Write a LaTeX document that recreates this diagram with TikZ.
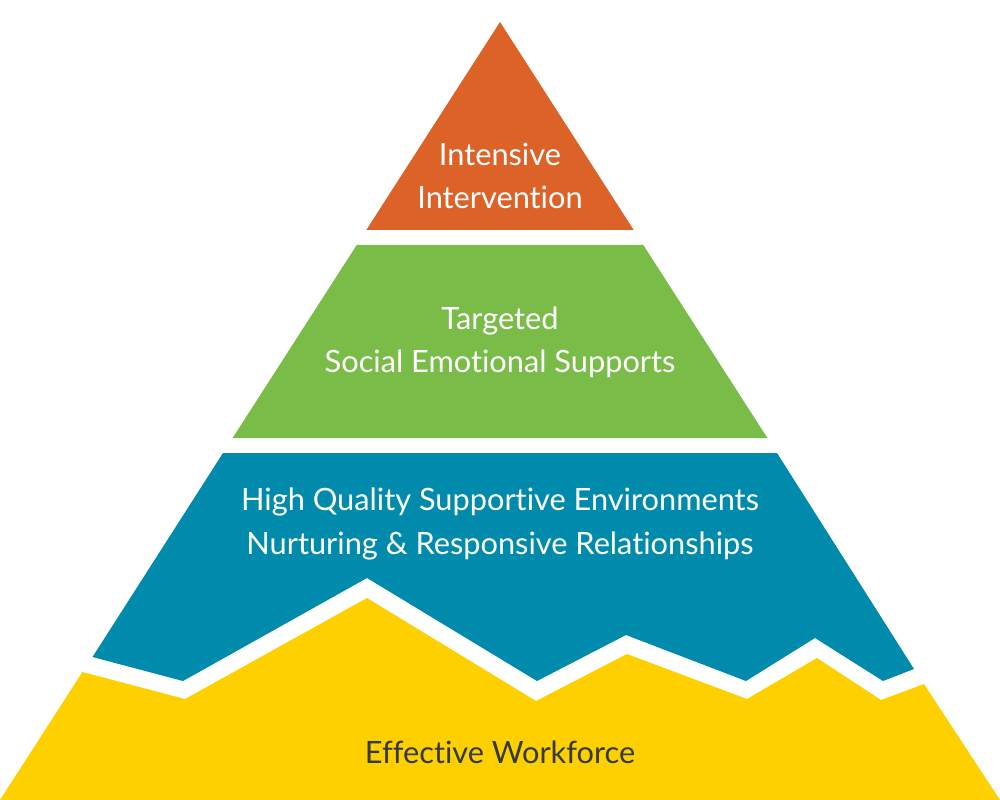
\documentclass[tikz,border=0pt]{standalone}
\usepackage{fontspec}
\setmainfont{Lato}[RawFeature={-liga;-dlig;-clig}]
\definecolor{tierorange}{HTML}{DC6228}
\definecolor{tiergreen}{HTML}{7ABC48}
\definecolor{tierblue}{HTML}{008AAB}
\definecolor{tieryellow}{HTML}{FFD000}
\definecolor{darktext}{HTML}{333A40}
\tikzset{
  tiertext/.style={align=center, text=white, font=\fontsize{17.5}{24.5}\selectfont, inner sep=0pt},
  basetext/.style={align=center, text=darktext, font=\fontsize{17.5}{24.5}\selectfont, inner sep=0pt}
}
\begin{document}
\begin{tikzpicture}[x=0.02cm, y=-0.02cm]
\useasboundingbox (0,0) rectangle (1000,800);
% top tier
\fill[tierorange] (500,22) -- (633.7,230) -- (366.3,230) -- cycle;
% second tier
\fill[tiergreen] (356.7,245) -- (643.3,245) -- (767.4,438) -- (232.6,438) -- cycle;
% third tier
\fill[tierblue] (223,453) -- (777,453) -- (914,669) -- (883,681) -- (815,638) -- (746,681) -- (626,635) -- (537,681) -- (367,578) -- (183,681) -- (92.5,657) -- cycle;
% base tier
\fill[tieryellow] (82.4,672) -- (185,699) -- (367,598) -- (536,701) -- (627,654) -- (747,699) -- (817,658) -- (881,700) -- (924,684) -- (1000,800) -- (0,800) -- cycle;
% labels
\node[tiertext] (t1) at (500,176) {Intensive\\Intervention};
\node[tiertext] (t2) at (500,342) {Targeted\\Social Emotional Supports};
\node[tiertext] (t3) at (500,524) {High Quality Supportive Environments\\Nurturing \& Responsive Relationships};
\node[basetext] (t4) at (500,752) {Effective Workforce};
\end{tikzpicture}
\end{document}
